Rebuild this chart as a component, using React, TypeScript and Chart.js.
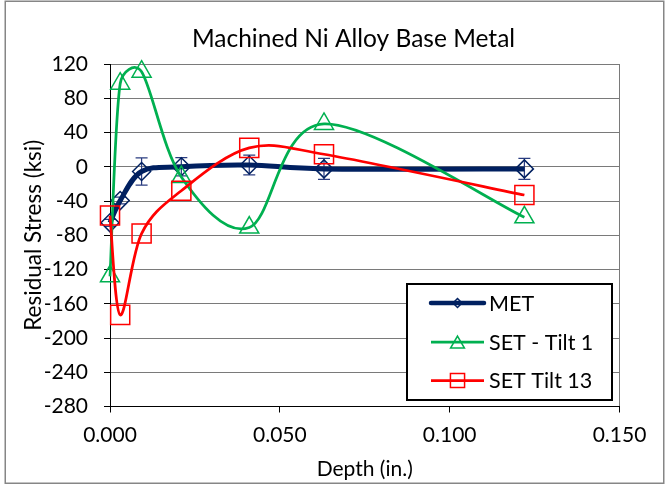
import React, { useEffect, useRef } from 'react';
import { Chart, registerables } from 'chart.js';
import { drawPoint } from 'chart.js/helpers';

Chart.register(...registerables);

// ---------- data ----------
const chartTitle = 'Machined Ni Alloy Base Metal';
const xAxisTitle = 'Depth (in.)';
const yAxisTitle = 'Residual Stress (ksi)';

const seriesLabels = ['MET', 'SET - Tilt 1', 'SET Tilt 13'];

const depthIn = [0, 0.003, 0.0093, 0.021, 0.041, 0.063, 0.122];
const metStress = [-65.5, -39.5, -5.5, 0, 2, -2.5, -2.5];
const metError = [4, 4, 16, 10.7, 11.5, 12.3, 12.3];
const setTilt1Stress = [-128, 97, 111, -12, -71, 50, -59];
const setTilt13Stress = [-57, -173, -78, -28, 22, 14.6, -33];

const yTickValues = [-280, -240, -200, -160, -120, -80, -40, 0, 40, 80, 120];
const xTickValues = [0, 0.05, 0.1, 0.15];

// ---------- styles ----------
const FONT = 'Lato';
const navy = '#002060';
const green = '#00B050';
const red = '#FF0000';
const gridColor = '#7a7a7a';

const toXY = (ys: number[]) => depthIn.map((x, i) => ({ x, y: ys[i] }));

// Excel-like smoothing of the line through the chart's own points
const excelSmooth = {
  id: 'excelSmooth',
  beforeDatasetDraw(chart: any, args: any) {
    const meta = args.meta;
    const line = meta.dataset;
    if (!line) return;
    const pts = meta.data;
    const n = pts.length;
    for (let i = 0; i < n; i++) {
      const p = pts[i];
      const prev = pts[i - 1] || p;
      const next = pts[i + 1] || p;
      const ax = (next.x - prev.x) / 6;
      const ay = (next.y - prev.y) / 6;
      const len = Math.hypot(ax, ay);
      const dn = Math.hypot(next.x - p.x, next.y - p.y);
      const dp = Math.hypot(p.x - prev.x, p.y - prev.y);
      const fo = len > 0 && len > dn / 2 ? dn / 2 / len : 1;
      const fi = len > 0 && len > dp / 2 ? dp / 2 / len : 1;
      p.cp2x = p.x + ax * fo;
      p.cp2y = p.y + ay * fo;
      p.cp1x = p.x - ax * fi;
      p.cp1y = p.y - ay * fi;
    }
    line._pointsUpdated = true;
    line._path = undefined;
  },
};

const errorBars = {
  id: 'errorBars',
  beforeDatasetsDraw(chart: any) {
    const ctx = chart.ctx;
    const meta = chart.getDatasetMeta(0);
    const ys = chart.scales.y;
    ctx.save();
    ctx.strokeStyle = '#2a3c80';
    ctx.lineWidth = 1.25;
    meta.data.forEach((pt: any, i: number) => {
      const v = metStress[i];
      const e = metError[i];
      const y1 = ys.getPixelForValue(v + e);
      const y2 = ys.getPixelForValue(v - e);
      const x = pt.x;
      ctx.beginPath();
      ctx.moveTo(x, y1);
      ctx.lineTo(x, y2);
      ctx.moveTo(x - 6, y1);
      ctx.lineTo(x + 6, y1);
      ctx.moveTo(x - 6, y2);
      ctx.lineTo(x + 6, y2);
      ctx.stroke();
    });
    ctx.restore();
  },
};

const legendRadius = [4.5, 8, 10];

const frameAndText = {
  id: 'frameAndText',
  beforeDraw(chart: any) {
    const ctx = chart.ctx;
    ctx.save();
    ctx.fillStyle = '#ffffff';
    ctx.fillRect(0, 0, chart.width, chart.height);
    ctx.restore();
  },
  afterDraw(chart: any) {
    const ctx = chart.ctx;
    ctx.save();
    // outer frame
    ctx.strokeStyle = '#868686';
    ctx.lineWidth = 1.5;
    ctx.strokeRect(5.25, 1.25, 658.5, 482);
    // title
    ctx.fillStyle = '#000';
    ctx.font = `24.5px ${FONT}`;
    ctx.textAlign = 'center';
    ctx.textBaseline = 'alphabetic';
    ctx.fillText(chartTitle, 353.5, 47);

    // legend box
    const lx = 407, ly = 284, lw = 205, lh = 116;
    ctx.fillStyle = '#fff';
    ctx.fillRect(lx, ly, lw, lh);
    ctx.strokeStyle = '#000';
    ctx.lineWidth = 2;
    ctx.strokeRect(lx, ly, lw, lh);
    const rows = [303, 342, 380.5];
    chart.data.datasets.forEach((ds: any, i: number) => {
      const y = rows[i];
      ctx.strokeStyle = ds.borderColor;
      ctx.lineWidth = i === 0 ? 4.5 : 2.75;
      ctx.lineCap = i === 0 ? 'round' : 'butt';
      ctx.beginPath();
      ctx.moveTo(431, y);
      ctx.lineTo(484, y);
      ctx.stroke();
      ctx.lineCap = 'butt';
      ctx.fillStyle = 'rgba(255,255,255,0)';
      ctx.strokeStyle = ds.pointBorderColor;
      ctx.lineWidth = 1.5;
      drawPoint(ctx, { pointStyle: ds.pointStyle, radius: legendRadius[i], rotation: 0, borderWidth: 1.5 }, 457.5, y + (ds.pointStyle === 'triangle' ? 2 : 0));
      ctx.fillStyle = '#000';
      ctx.font = `21.5px ${FONT}`;
      ctx.textAlign = 'left';
      ctx.textBaseline = 'middle';
      ctx.fillText(ds.label, 489, y + 1);
    });
    ctx.restore();
  },
};

export default function App() {
  const ref = useRef<HTMLCanvasElement | null>(null);
  useEffect(() => {
    document.body.style.margin = '0';
    let chart: any = null;
    let cancelled = false;
    const make = () => {
      if (cancelled || !ref.current) return;
      chart = new Chart(ref.current, {
        type: 'scatter',
        data: {
          datasets: [
            {
              label: seriesLabels[0],
              data: toXY(metStress),
              showLine: true,
              tension: 0.4,
              borderColor: navy,
              borderWidth: 5,
              pointStyle: 'rectRot',
              pointRadius: 9,
              pointBorderColor: navy,
              pointBackgroundColor: 'rgba(255,255,255,0)',
              pointBorderWidth: 1.5,
              clip: false,
              order: 3,
            },
            {
              label: seriesLabels[1],
              data: toXY(setTilt1Stress),
              showLine: true,
              tension: 0.4,
              borderColor: green,
              borderWidth: 2.75,
              pointStyle: 'triangle',
              pointRadius: 11,
              pointBorderColor: green,
              pointBackgroundColor: 'rgba(255,255,255,0)',
              pointBorderWidth: 1.5,
              clip: false,
              order: 2,
            },
            {
              label: seriesLabels[2],
              data: toXY(setTilt13Stress),
              showLine: true,
              tension: 0.4,
              borderColor: red,
              borderWidth: 2.75,
              pointStyle: 'rect',
              pointRadius: 13.5,
              pointBorderColor: red,
              pointBackgroundColor: 'rgba(255,255,255,0)',
              pointBorderWidth: 1.5,
              clip: false,
              order: 1,
            },
          ],
        },
        options: {
          responsive: false,
          animation: false,
          events: [],
          layout: { padding: { left: 0, top: 64, right: 46.5, bottom: 0 } },
          plugins: {
            legend: { display: false },
            title: { display: false },
            tooltip: { enabled: false },
          },
          scales: {
            x: {
              type: 'linear',
              min: 0,
              max: 0.15,
              afterBuildTicks: (s: any) => {
                s.ticks = xTickValues.map((v) => ({ value: v }));
              },
              afterFit: (s: any) => {
                s.height = 77.5;
              },
              grid: {
                color: (c: any) => (c.index === xTickValues.length - 1 ? gridColor : 'rgba(0,0,0,0)'),
                tickColor: '#000',
                tickLength: 6,
                lineWidth: 1,
              },
              border: { color: '#000', width: 1 },
              ticks: {
                color: '#000',
                font: { family: FONT, size: 21 },
                padding: 10,
                maxRotation: 0,
                autoSkip: false,
                callback: (v: any) => Number(v).toFixed(3),
              },
              title: {
                display: true,
                text: xAxisTitle,
                color: '#000',
                font: { family: FONT, size: 21 },
                padding: { top: 0, bottom: 2 },
              },
            },
            y: {
              type: 'linear',
              min: -280,
              max: 120,
              afterBuildTicks: (s: any) => {
                s.ticks = yTickValues.map((v) => ({ value: v }));
              },
              afterFit: (s: any) => {
                s.width = 110;
              },
              grid: { color: gridColor, tickColor: '#000', tickLength: 6, lineWidth: 1 },
              border: { color: '#000', width: 1 },
              ticks: {
                color: '#000',
                font: { family: FONT, size: 21 },
                padding: 16,
                autoSkip: false,
                callback: (v: any) => String(v),
              },
              title: {
                display: true,
                text: yAxisTitle,
                color: '#000',
                font: { family: FONT, size: 22.5 },
                padding: { top: 20, bottom: 0 },
              },
            },
          },
        },
        plugins: [excelSmooth, errorBars, frameAndText],
      } as any);
    };
    const fonts: any = (document as any).fonts;
    if (fonts && fonts.load) {
      Promise.all([fonts.load(`21px ${FONT}`), fonts.load(`24px ${FONT}`)]).then(make, make);
    } else {
      make();
    }
    return () => {
      cancelled = true;
      if (chart) chart.destroy();
    };
  }, []);
  return (
    <div style={{ width: 666, height: 484 }}>
      <canvas ref={ref} width={666} height={484} style={{ display: 'block' }} />
    </div>
  );
}
